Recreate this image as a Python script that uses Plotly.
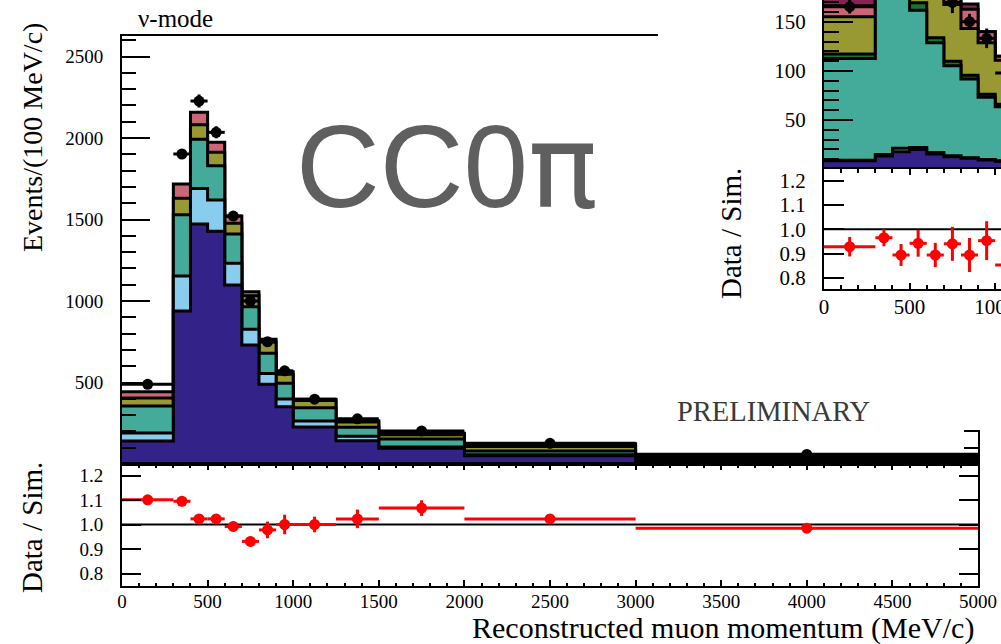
import numpy as np
import plotly.graph_objects as go

W, H = 1001, 644

# ---------------- main panel data (Events / 100 MeV/c) ----------------
edges = [0, 300, 400, 500, 600, 700, 800, 900, 1000, 1250, 1500, 2000, 3000, 5000]
centers = [150, 350, 450, 550, 650, 750, 850, 950, 1125, 1375, 1750, 2500, 4000]

mc_purple = [141, 939, 1472, 1428, 1098, 730, 489, 352, 227, 143, 96, 50, 20]
mc_lightblue = [49, 214, 219, 192, 133, 96, 67, 47, 37, 27, 8, 7, 3]
mc_teal = [166, 376, 301, 210, 180, 139, 123, 96, 81, 56, 50, 22, 13]
mc_olive = [49, 101, 90, 82, 66, 68, 70, 56, 45, 32, 26, 28, 14]
mc_pink = [39, 88, 76, 62, 44, 24, 16, 15, 7, 8, 8, 17, 10]

data = [489, 1902, 2227, 2035, 1521, 1000, 750, 572, 398, 277, 203, 127, 59]
data_err = [7, 29, 40, 37, 30, 20, 25, 23, 13, 11, 6.5, 2.3, 1.1]

ratio = [1.101, 1.095, 1.023, 1.023, 0.992, 0.931, 0.978, 1.0, 1.0, 1.023, 1.067, 1.023, 0.985]
ratio_err = [0.015, 0.015, 0.018, 0.018, 0.02, 0.02, 0.034, 0.04, 0.032, 0.038, 0.032, 0.018, 0.018]

# ---------------- inset data ----------------
in_edges = [0, 300, 400, 500, 600, 700, 800, 900, 1000, 1250]
in_centers = [150, 350, 450, 550, 650, 750, 850, 950, 1125]

in_purple = [8.5, 13.3, 17.7, 20, 15.3, 12.6, 10.9, 9.2, 8]
in_lightblue = [0.5, 1.5, 3.5, 2, 1.5, 1, 0.5, 0.5, 0.5]
in_teal = [103.6, 185, 200, 140, 112, 91.8, 80.4, 63.5, 55]
in_darkgreen = [4.7, 5, 6, 7.5, 5, 4.6, 3.8, 3, 2.5]
in_olive = [38.1, 45, 48, 60, 60, 57.7, 47.6, 52.7, 45]
in_pink = [11.2, 12, 13, 12, 12, 8, 19.8, 11, 4]
in_wine = [12, 5, 6, 5, 5, 5, 5.4, 0, 0]

in_data = [165.6, 257, 263, 232, 188, 170, 150.3, 133.3, 98]
in_data_err = [7, 9, 12, 13, 9, 11, 8, 10, 5]

in_ratio = [0.928, 0.965, 0.894, 0.942, 0.894, 0.940, 0.894, 0.953, 0.853]
in_ratio_err = [0.04, 0.035, 0.045, 0.055, 0.05, 0.07, 0.07, 0.08, 0.05]

C_PURPLE = "#332288"
C_LBLUE = "#88CCEE"
C_TEAL = "#44AA99"
C_DGREEN = "#117733"
C_OLIVE = "#999933"
C_PINK = "#CC6677"
C_WINE = "#882255"

SERIF = "Liberation Serif"
SANS = "Liberation Sans"


def fx(px):
    return px / W


def fy(py):
    return 1 - py / H


def half_widths(e):
    return [(e[i + 1] - e[i]) / 2 for i in range(len(e) - 1)]


fig = go.Figure()


def add_stack(comps, colors, e, xa, ya):
    cum = np.cumsum(np.array(comps, dtype=float), axis=0)
    for k in range(len(comps) - 1, -1, -1):
        yy = list(cum[k]) + [cum[k][-1]]
        fig.add_trace(go.Scatter(
            x=e, y=yy, mode="lines",
            line=dict(shape="hv", color="black", width=3),
            fill="tozeroy", fillcolor=colors[k],
            xaxis=xa, yaxis=ya, hoverinfo="skip", showlegend=False))


def add_points(xc, yv, xe, ye, color, xa, ya, size=11):
    fig.add_trace(go.Scatter(
        x=xc, y=yv, mode="markers",
        marker=dict(color=color, size=size),
        error_x=dict(type="data", array=xe, color=color, thickness=3, width=0),
        error_y=dict(type="data", array=ye, color=color, thickness=3, width=0),
        xaxis=xa, yaxis=ya, hoverinfo="skip", showlegend=False))


# main stack + data
add_stack([mc_purple, mc_lightblue, mc_teal, mc_olive, mc_pink],
          [C_PURPLE, C_LBLUE, C_TEAL, C_OLIVE, C_PINK], edges, "x", "y")
add_points(centers, data, half_widths(edges), data_err, "black", "x", "y")

# main ratio
fig.add_trace(go.Scatter(x=[edges[0], edges[-1]], y=[1, 1], mode="lines",
                         line=dict(color="black", width=2), xaxis="x2", yaxis="y2",
                         hoverinfo="skip", showlegend=False))
add_points(centers, ratio, half_widths(edges), ratio_err, "red", "x2", "y2")

# white pad under the inset
fig.add_trace(go.Scatter(x=[None], y=[None], xaxis="x3", yaxis="y3", showlegend=False))

# inset stack + data
add_stack([in_purple, in_lightblue, in_teal, in_darkgreen, in_olive, in_pink, in_wine],
          [C_PURPLE, C_LBLUE, C_TEAL, C_DGREEN, C_OLIVE, C_PINK, C_WINE], in_edges, "x4", "y4")
add_points(in_centers, in_data, half_widths(in_edges), in_data_err, "black", "x4", "y4")

# inset ratio
fig.add_trace(go.Scatter(x=[in_edges[0], in_edges[-1]], y=[1, 1], mode="lines",
                         line=dict(color="black", width=2), xaxis="x5", yaxis="y5",
                         hoverinfo="skip", showlegend=False))
add_points(in_centers, in_ratio, half_widths(in_edges), in_ratio_err, "red", "x5", "y5")

tickfont = dict(family=SERIF, size=19, color="black")
tickfont_in = dict(family=SERIF, size=21, color="black")
common = dict(showgrid=False, zeroline=False, showline=True, linecolor="black",
              linewidth=2, tickcolor="black", tickwidth=2, automargin=False)

xmain = [fx(122), fx(978)]
xin = [fx(824), 1.0]

fig.update_layout(
    width=W, height=H,
    margin=dict(l=0, r=0, t=0, b=0, pad=0, autoexpand=False),
    paper_bgcolor="white", plot_bgcolor="white",
    showlegend=False,
    xaxis=dict(domain=xmain, range=[0, 5000], anchor="y", showticklabels=False,
               ticks="", mirror=True, **common),
    yaxis=dict(domain=[fy(464), fy(36)], range=[0, 2626], anchor="x",
               tickmode="array", tickvals=[0, 500, 1000, 1500, 2000, 2500],
               ticktext=["", "500", "1000", "1500", "2000", "2500"],
               ticks="inside", ticklen=28, mirror="ticks", tickfont=tickfont,
               ticklabelstandoff=13,
               minor=dict(tickmode="linear", tick0=0, dtick=100, ticks="inside",
                          ticklen=14, tickwidth=2, tickcolor="black"),
               **common),
    xaxis2=dict(domain=xmain, range=[0, 5000], anchor="y2",
                tickmode="linear", tick0=0, dtick=500,
                ticks="inside", ticklen=6, mirror="ticks", tickfont=tickfont,
                ticklabelstandoff=0, ticklabeloverflow="allow",
                minor=dict(tickmode="linear", tick0=0, dtick=100, ticks="inside",
                           ticklen=3.5, tickwidth=2, tickcolor="black"),
                **common),
    yaxis2=dict(domain=[fy(586), fy(464)], range=[0.749, 1.247], anchor="x2",
                tickmode="array", tickvals=[0.8, 0.9, 1.0, 1.1, 1.2],
                ticktext=["0.8", "0.9", "1.0", "1.1", "1.2"],
                ticks="inside", ticklen=19, mirror="ticks", tickfont=tickfont,
                ticklabelstandoff=13, **common),
    xaxis3=dict(domain=[fx(658), 1.0], range=[0, 1], anchor="y3", visible=False),
    yaxis3=dict(domain=[fy(430), 1.0], range=[0, 1], anchor="x3", visible=False),
    xaxis4=dict(domain=xin, range=[0, 1033.9], anchor="y4", showticklabels=False,
                ticks="", mirror=False, **common),
    yaxis4=dict(domain=[fy(169), 1.0], range=[0, 172.4], anchor="x4",
                tickmode="array", tickvals=[0, 50, 100, 150],
                ticktext=["", "50", "100", "150"],
                ticks="inside", ticklen=29, mirror=False, tickfont=tickfont_in,
                ticklabelstandoff=12, ticklabeloverflow="allow",
                minor=dict(tickmode="linear", tick0=0, dtick=10, ticks="inside",
                           ticklen=15, tickwidth=2, tickcolor="black"),
                **common),
    xaxis5=dict(domain=xin, range=[0, 1033.9], anchor="y5",
                tickmode="linear", tick0=0, dtick=500,
                ticks="inside", ticklen=6, mirror="ticks", tickfont=tickfont_in,
                ticklabelstandoff=0, ticklabeloverflow="allow",
                minor=dict(tickmode="linear", tick0=0, dtick=100, ticks="inside",
                           ticklen=4, tickwidth=2, tickcolor="black"),
                **common),
    yaxis5=dict(domain=[fy(289), fy(169)], range=[0.754, 1.248], anchor="x5",
                tickmode="array", tickvals=[0.8, 0.9, 1.0, 1.1, 1.2],
                ticktext=["0.8", "0.9", "1.0", "1.1", "1.2"],
                ticks="inside", ticklen=20, mirror=False, tickfont=tickfont_in,
                ticklabelstandoff=12, **common),
)

# pull the x tick labels slightly closer to the axis, if allowed
try:
    fig.update_layout(xaxis2_ticklabelstandoff=-3, xaxis5_ticklabelstandoff=-2)
except ValueError:
    pass

ann = [
    dict(text="ν-mode", x=fx(136), y=fy(19), xanchor="left", yanchor="middle",
         font=dict(family=SERIF, size=25, color="black")),
    dict(text="CC0<span style=\"font-family:'DejaVu Sans'\">π</span>", x=fx(294), y=fy(166),
         xanchor="left", yanchor="middle",
         font=dict(family=SANS, size=116, color="#5f5f5f")),
    dict(text="PRELIMINARY", x=fx(675), y=fy(411), xanchor="left", yanchor="middle",
         font=dict(family=SERIF, size=28.5, color="#3a3a3a")),
    dict(text="Events/(100 MeV/c)", x=fx(32), y=fy(138), xanchor="center", yanchor="middle",
         textangle=-90, font=dict(family=SERIF, size=28, color="black")),
    dict(text="Data / Sim.", x=fx(32), y=fy(528), xanchor="center", yanchor="middle",
         textangle=-90, font=dict(family=SERIF, size=29, color="black")),
    dict(text="Data / Sim.", x=fx(731), y=fy(234), xanchor="center", yanchor="middle",
         textangle=-90, font=dict(family=SERIF, size=29, color="black")),
    dict(text="Reconstructed muon momentum (MeV/c)", x=fx(976), y=fy(628),
         xanchor="right", yanchor="middle",
         font=dict(family=SERIF, size=30, color="black")),
]
for a in ann:
    a.update(xref="paper", yref="paper", showarrow=False)
fig.update_layout(annotations=ann)

fig.write_html("out.html")
